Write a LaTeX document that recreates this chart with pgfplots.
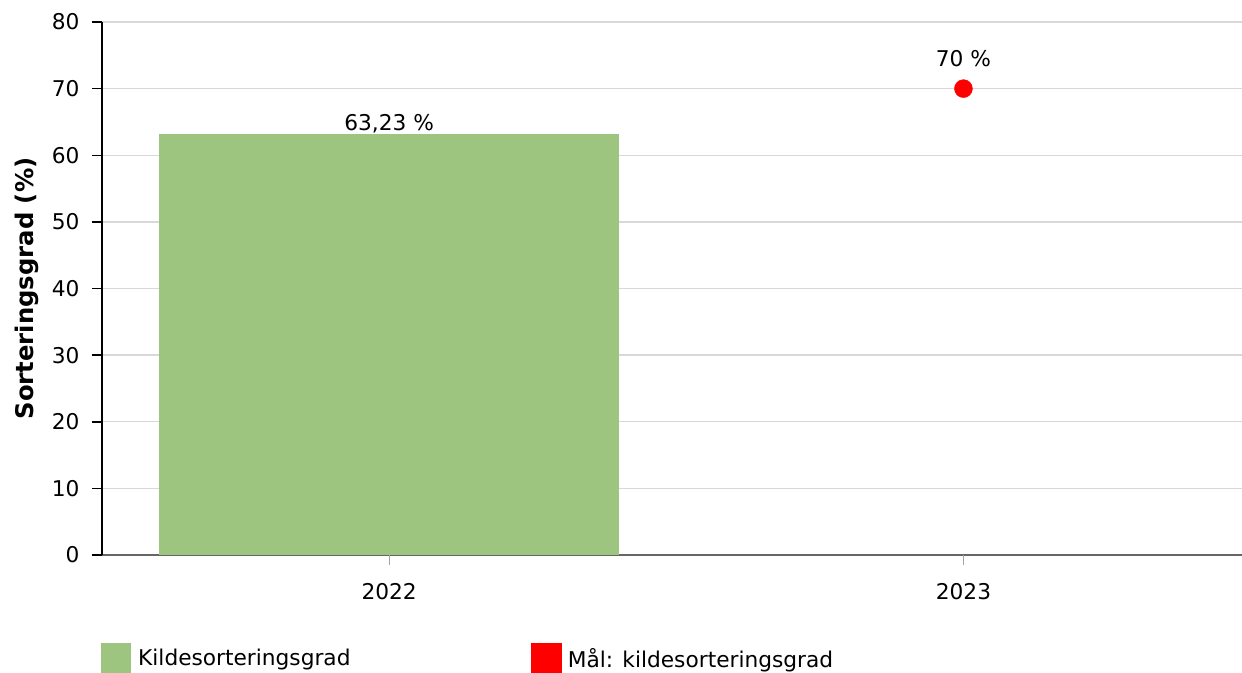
\documentclass[border=0pt]{standalone}
\usepackage{pgfplots}
\pgfplotsset{compat=1.18}
\usepackage{fontspec}
\setmainfont{DejaVu Sans}
\definecolor{barg}{RGB}{157,197,128}
\definecolor{gridc}{RGB}{216,216,216}
\definecolor{xaxc}{RGB}{102,102,102}
\pgfkeys{/pgf/number format/assume math mode=true}
\begin{document}
\begin{tikzpicture}
\begin{axis}[
  name=ax,
  scale only axis,
  width=1140pt, height=533pt,
  xmin=-0.5, xmax=1.485,
  ymin=0, ymax=80,
  ytick={0,10,...,80},
  xtick=\empty,
  extra x ticks={0,1},
  extra x tick labels={2022,2023},
  extra x tick style={grid=none, major tick length=10pt, tick style={xaxc!60, line width=1pt}},
  minor xtick={0.5},
  xminorgrids=true,
  minor grid style={gridc, line width=1.2pt},
  minor tick length=0pt,
  ymajorgrids=true,
  major grid style={gridc, line width=1.3pt},
  axis lines*=left,
  x axis line style={xaxc, line width=1.5pt},
  y axis line style={black, line width=1.5pt},
  tick align=outside,
  major tick length=10pt,
  tick style={black, line width=1.5pt},
  tick label style={font=\fontsize{21.7}{26}\selectfont},
  yticklabel style={xshift=-9pt},
  xticklabel style={yshift=-15pt},
  ylabel={\bfseries Sorteringsgrad (\%)},
  ylabel style={font=\fontsize{24.3}{29}\selectfont, at={(axis description cs:0,0.5)}, anchor=center, yshift=75pt},
  clip=false,
  legend columns=2,
  legend style={at={(axis description cs:0,0)}, anchor=north west, xshift=-1pt, yshift=-88pt,
    draw=none, fill=none, inner sep=0pt, font=\fontsize{21.7}{26}\selectfont,
    /tikz/every odd column/.append style={column sep=5pt},
    /tikz/every even column/.append style={column sep=178pt}},
  legend cell align=left,
]
\addplot[ybar, bar width=0.8, bar shift=0pt, fill=barg, draw=none,
  legend image code/.code={\fill[barg] (0pt,-15pt) rectangle (30pt,15pt);},
  nodes near coords={\pgfmathprintnumber[fixed,precision=2,fixed zerofill,use comma]{\pgfplotspointmeta}~\%},
  nodes near coords style={anchor=base, inner sep=0pt, yshift=3pt, black, font=\fontsize{21.7}{26}\selectfont}]
  coordinates {(0,63.23)};
\addlegendentry{Kildesorteringsgrad}
\addplot[only marks, mark=*, mark size=9pt, color=red, mark options={fill=red, draw=red},
  legend image code/.code={\fill[red] (0pt,-15pt) rectangle (30pt,15pt);},
  nodes near coords={\pgfmathprintnumber[fixed,precision=0]{\pgfplotspointmeta}~\%},
  nodes near coords style={anchor=base, inner sep=0pt, yshift=22pt, black, font=\fontsize{21.7}{26}\selectfont}]
  coordinates {(1,70)};
\addlegendentry{Mål: kildesorteringsgrad}
\end{axis}
\pgfresetboundingbox
\path[use as bounding box] ([shift={(-102pt,-117pt)}]ax.south west) rectangle ([shift={(0pt,22pt)}]ax.north east);
\end{tikzpicture}
\end{document}
